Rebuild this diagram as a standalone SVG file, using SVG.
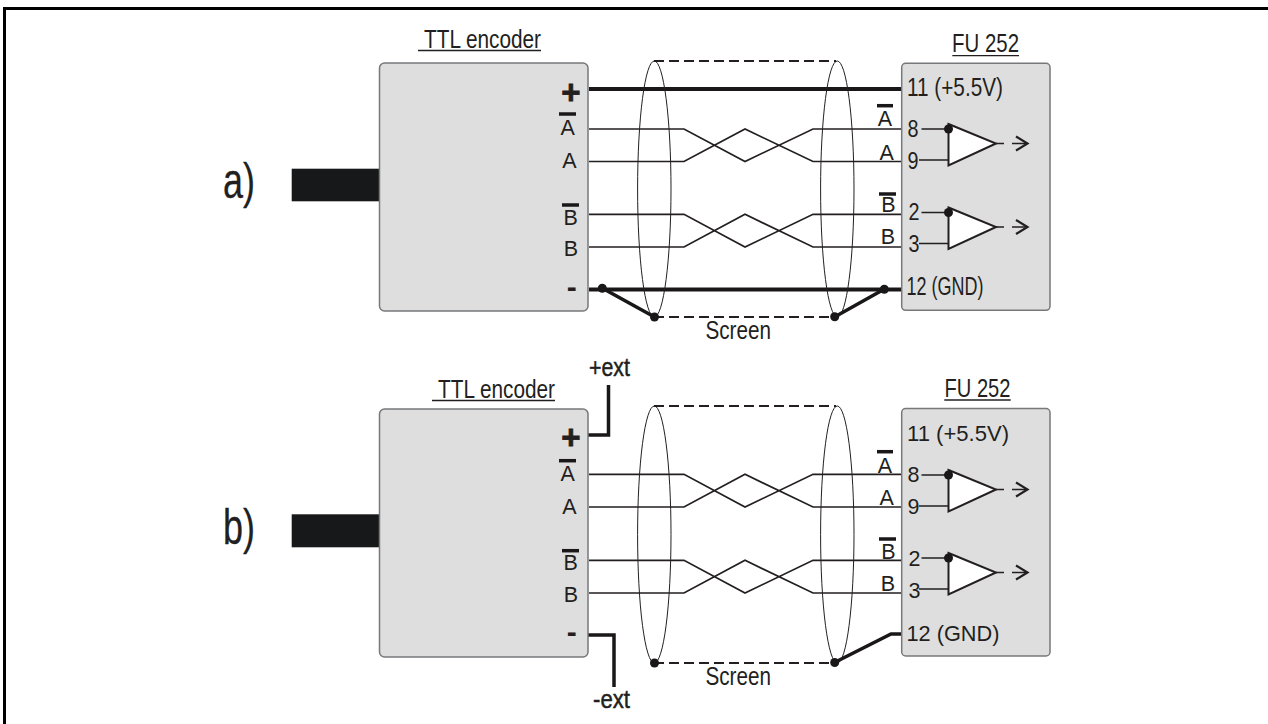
<svg xmlns="http://www.w3.org/2000/svg" width="1268" height="724" viewBox="0 0 1268 724">
<style>
text{font-family:"Liberation Sans",Arial,sans-serif;fill:#231f20}
.pin{font-size:21.500px;text-anchor:middle}
.sym{font-size:33px;font-weight:bold;text-anchor:middle;stroke:#231f20;stroke-width:.8}
.min{font-size:30px;font-weight:bold;text-anchor:middle}
.nar{font-size:26.500px}
.num{font-size:23.500px}
.wide{font-size:21.500px}
.ext{font-size:26.500px;stroke:#231f20;stroke-width:.5}
.lab{font-size:50px;stroke:#231f20;stroke-width:.3}
.box{fill:#dedede;stroke:#77787a;stroke-width:1.500}
.w{fill:none;stroke:#231f20;stroke-width:1.700}
.t{fill:none;stroke:#1a1718;stroke-width:4}
.s{fill:none;stroke:#1a1718;stroke-width:3.500}
.e{fill:none;stroke:#231f20;stroke-width:1}
.d{fill:none;stroke:#231f20;stroke-width:2;stroke-dasharray:10 5}
.o{fill:#1a1718}
.amp{fill:#fff;stroke:#231f20;stroke-width:2}
.l{fill:#171819}
.u{stroke:#231f20;stroke-width:1.300}
.b{stroke:#1a1718;stroke-width:3.500}
</style>
<defs>
<g id="amp">
<path class="w" d="M921.500 0H948.500M919 31H948.500"/>
<path class="amp" d="M948.500 -5L996 14.500L948.500 36.500Z"/>
<circle class="o" cx="948.500" cy="0" r="4.500"/>
<path class="w" d="M996 14.500H1004M1012 14.500H1027"/>
<path class="w" style="stroke-width:2.200" d="M1016 7.500L1027.500 14.500L1016 21.500"/>
</g>
</defs>
<path d="M4.500 724V8.500H1268" fill="none" stroke="#000" stroke-width="3"/>
<g id="connectors">
<path class="t" d="M589 89H901M589 289.500H901"/>
<path class="s" d="M602 288L654.500 317M834.500 317L884.500 289"/>
<path class="d" d="M654 61H836M654 317H836M654 406H836M654 663H836"/>
<path class="s" d="M586 435H608.500V385M588 635H614V687M834.500 662.500L891 634H901"/>
<path class="w" d="M589 129H684L745 161.500L813 129H901M589 161.500H684L745 129L813 161.500H901"/>
<path class="w" d="M589 214.300H684L745 247L813 214.300H901M589 247H684L745 214.300L813 247H901"/>
<path class="w" d="M589 474.300H684L745 507L813 474.300H901M589 507H684L745 474.300L813 507H901"/>
<path class="w" d="M589 560.300H684L745 593L813 560.300H901M589 593H684L745 560.300L813 593H901"/>
<ellipse class="e" cx="654.300" cy="189" rx="16.700" ry="128"/>
<ellipse class="e" cx="837.300" cy="189" rx="16.700" ry="128"/>
<ellipse class="e" cx="654.300" cy="534.500" rx="16.700" ry="128.500"/>
<ellipse class="e" cx="837.300" cy="534.500" rx="16.700" ry="128.500"/>
<circle class="o" cx="602.300" cy="288.300" r="4.500"/>
<circle class="o" cx="654.500" cy="317" r="4.500"/>
<circle class="o" cx="834.700" cy="316.700" r="4.500"/>
<circle class="o" cx="884.300" cy="289.300" r="4.500"/>
<circle class="o" cx="654.500" cy="663" r="4.500"/>
<circle class="o" cx="834.700" cy="662.500" r="4.500"/>
</g>
<g id="label-a"><text class="lab" x="223" y="198" textLength="32" lengthAdjust="spacingAndGlyphs">a)</text></g>
<g id="label-b"><text class="lab" x="223" y="544" textLength="32" lengthAdjust="spacingAndGlyphs">b)</text></g>
<g id="encoder-a">
<rect class="l" x="291.700" y="168.700" width="89" height="32.600"/>
<rect class="box" x="379.500" y="63" width="208.500" height="248" rx="5"/>
<text class="nar" x="424" y="48" textLength="117" lengthAdjust="spacingAndGlyphs">TTL encoder</text>
<path class="u" d="M418 50.500H541"/>
<text class="sym" x="571" y="104">+</text>
<path class="b" d="M559 114H576"/>
<text class="pin" x="567.700" y="135">A</text>
<text class="pin" x="569.300" y="168">A</text>
<path class="b" d="M562 205H579"/>
<text class="pin" x="570.700" y="224.500">B</text>
<text class="pin" x="571" y="256">B</text>
<text class="min" x="571.700" y="296.700">-</text>
</g>
<g id="encoder-b">
<rect class="l" x="291.700" y="514.300" width="89" height="33"/>
<rect class="box" x="379.500" y="409" width="208.500" height="248" rx="5"/>
<text class="nar" x="438" y="398" textLength="117" lengthAdjust="spacingAndGlyphs">TTL encoder</text>
<path class="u" d="M432 400.500H555"/>
<text class="sym" x="571" y="449.400">+</text>
<path class="b" d="M559 460.700H576"/>
<text class="pin" x="567.700" y="481">A</text>
<text class="pin" x="569.300" y="513.700">A</text>
<path class="b" d="M562 550.700H579"/>
<text class="pin" x="570.700" y="570">B</text>
<text class="pin" x="571" y="602.300">B</text>
<text class="min" x="571.700" y="642.300">-</text>
</g>
<g id="fu-a">
<rect class="box" x="901.700" y="63.300" width="148.300" height="247" rx="4"/>
<text class="nar" x="952" y="52" textLength="67" lengthAdjust="spacingAndGlyphs">FU 252</text>
<path class="u" d="M952.300 55.700H1019"/>
<text class="nar" x="907" y="95.700" textLength="96" lengthAdjust="spacingAndGlyphs">11 (+5.5V)</text>
<text class="nar" x="906.500" y="295" textLength="77" lengthAdjust="spacingAndGlyphs">12 (GND)</text>
<use href="#amp" y="129"/>
<use href="#amp" y="212.500"/>
<text class="num" x="907.500" y="137.300" textLength="11" lengthAdjust="spacingAndGlyphs">8</text>
<text class="num" x="907.500" y="169" textLength="11" lengthAdjust="spacingAndGlyphs">9</text>
<text class="num" x="908.500" y="220" textLength="11" lengthAdjust="spacingAndGlyphs">2</text>
<text class="num" x="908.500" y="251.700" textLength="11" lengthAdjust="spacingAndGlyphs">3</text>
</g>
<g id="fu-a-inputs">
<path class="b" d="M877 105.700H893"/>
<text class="pin" x="885" y="126">A</text>
<text class="pin" x="886.700" y="160">A</text>
<path class="b" d="M879 194H896"/>
<text class="pin" x="888.300" y="212.300">B</text>
<text class="pin" x="888" y="244">B</text>
</g>
<g id="fu-b">
<rect class="box" x="901.700" y="408.500" width="148.300" height="247.500" rx="4"/>
<text class="nar" x="944.500" y="397" textLength="66" lengthAdjust="spacingAndGlyphs">FU 252</text>
<path class="u" d="M944.300 400H1010.700"/>
<text class="wide" x="907" y="441" textLength="102" lengthAdjust="spacingAndGlyphs">11 (+5.5V)</text>
<text class="wide" x="906.500" y="640.700" textLength="93" lengthAdjust="spacingAndGlyphs">12 (GND)</text>
<use href="#amp" y="475"/>
<use href="#amp" y="558"/>
<text class="wide" x="907.500" y="482">8</text>
<text class="wide" x="907.500" y="514">9</text>
<text class="wide" x="908.500" y="565.700">2</text>
<text class="wide" x="908.500" y="598">3</text>
</g>
<g id="fu-b-inputs">
<path class="b" d="M877 451.700H893"/>
<text class="pin" x="885" y="472.700">A</text>
<text class="pin" x="886.700" y="505">A</text>
<path class="b" d="M879 539H896"/>
<text class="pin" x="888.300" y="559">B</text>
<text class="pin" x="888" y="590.700">B</text>
</g>
<g id="screen-a"><text class="nar" x="705.500" y="339" textLength="65.500" lengthAdjust="spacingAndGlyphs">Screen</text></g>
<g id="screen-b"><text class="nar" x="705.500" y="685" textLength="65.500" lengthAdjust="spacingAndGlyphs">Screen</text></g>
<g id="ext-plus"><text class="ext" x="589" y="376" textLength="41" lengthAdjust="spacingAndGlyphs">+ext</text></g>
<g id="ext-minus"><text class="ext" x="593" y="708" textLength="37" lengthAdjust="spacingAndGlyphs">-ext</text></g>
</svg>
